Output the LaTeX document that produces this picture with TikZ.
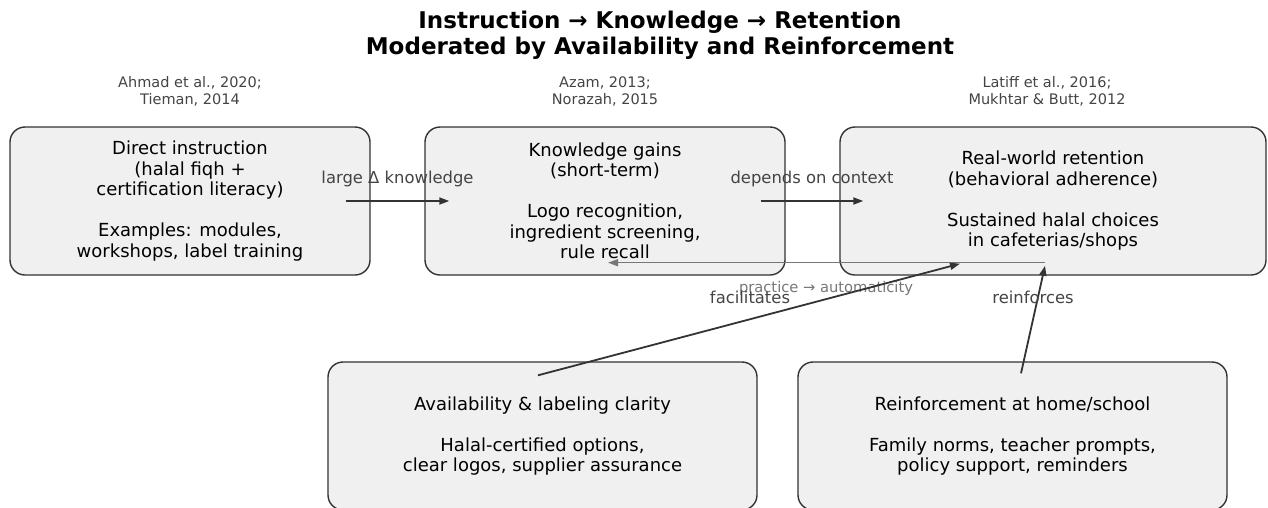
\documentclass[tikz,border=0pt]{standalone}
\usepackage{fontspec}
\setmainfont{DejaVu Sans}
\usetikzlibrary{arrows.meta,calc}
\definecolor{boxfill}{HTML}{F0F0F0}
\definecolor{boxline}{HTML}{333333}
\definecolor{citegray}{HTML}{444444}
\definecolor{lblgray}{HTML}{444444}
\definecolor{fbgray}{HTML}{777777}
\tikzset{
  stage/.style={draw=boxline, fill=boxfill, line width=1.4pt, rounded corners=15pt,
    align=center, font=\fontsize{18}{20.5}\selectfont, text=black, inner sep=0pt},
  cite/.style={align=center, font=\fontsize{14.5}{17}\selectfont, text=citegray},
  flow/.style={draw=boxline, line width=1.8pt, -{Triangle[length=10pt,width=7pt]}},
  back/.style={draw=fbgray, line width=1.5pt, -{Triangle[length=10pt,width=7pt]}},
  lbl/.style={font=\fontsize{16.4}{18}\selectfont, text=lblgray},
  fblbl/.style={font=\fontsize{14.7}{16}\selectfont, text=fbgray},
}
\begin{document}
\begin{tikzpicture}[x=1pt,y=-1pt]
\useasboundingbox (0,0) rectangle (1268,507);

% title
\node[align=center, font=\bfseries\fontsize{23}{26.5}\selectfont] (title) at (660,35)
  {Instruction → Knowledge → Retention\\Moderated by Availability and Reinforcement};

% sources
\node[cite] (c1) at (190,91) {Ahmad et al., 2020;\\Tieman, 2014};
\node[cite] (c2) at (605,91) {Azam, 2013;\\Norazah, 2015};
\node[cite] (c3) at (1047,91) {Latiff et al., 2016;\\Mukhtar \& Butt, 2012};

% stages
\node[stage, minimum width=360pt, minimum height=148pt] (b1) at (190,201)
  {Direct instruction\\(halal fiqh +\\certification literacy)\\[20.5pt]Examples: modules,\\workshops, label training};
\node[stage, minimum width=360pt, minimum height=148pt] (b2) at (605,201)
  {Knowledge gains\\(short-term)\\[20.5pt]Logo recognition,\\ingredient screening,\\rule recall};
\node[stage, minimum width=426pt, minimum height=148pt] (b3) at (1053,201)
  {Real-world retention\\(behavioral adherence)\\[20.5pt]Sustained halal choices\\in cafeterias/shops};
\node[stage, minimum width=429pt, minimum height=148pt] (b4) at (542.5,436)
  {Availability \& labeling clarity\\[20.5pt]Halal-certified options,\\clear logos, supplier assurance};
\node[stage, minimum width=429pt, minimum height=148pt] (b5) at (1012.5,436)
  {Reinforcement at home/school\\[20.5pt]Family norms, teacher prompts,\\policy support, reminders};

% main flow
\draw[flow] ($(b1.east)+(-25,0)$) -- node[lbl, pos=0.5, yshift=22pt] (l1) {large Δ knowledge} ($(b2.west)+(25,0)$);
\draw[flow] ($(b2.east)+(-25,0)$) -- node[lbl, pos=0.5, yshift=22pt] (l2) {depends on context} ($(b3.west)+(24,0)$);

% feedback
\draw[back] ($(b3.south)+(-8,-13)$) -- ($(b2.south)+(3,-13)$);
\node[fblbl] (l3) at (826,288) {practice → automaticity};

% moderators
\draw[flow] ($(b4.north)+(-4.5,14)$) -- ($(b3.south)+(-93,-12)$);
\node[lbl] (l4) at (750,297) {facilitates};
\draw[flow] ($(b5.north)+(8.5,12)$) -- ($(b3.south)+(-8,-10)$);
\node[lbl] (l5) at (1033,297) {reinforces};
\end{tikzpicture}
\end{document}
